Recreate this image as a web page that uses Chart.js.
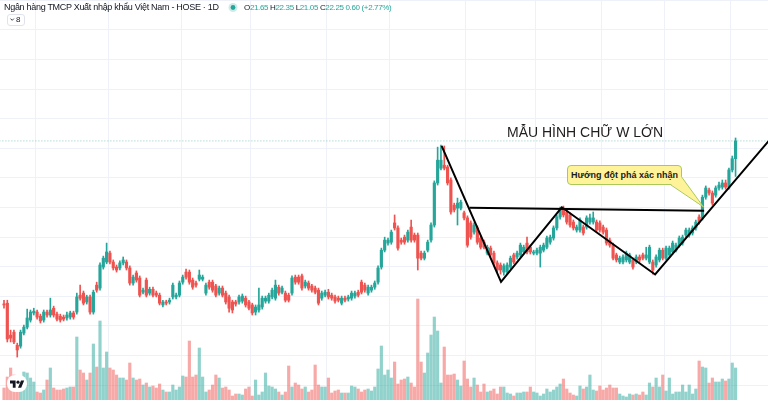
<!DOCTYPE html>
<html lang="vi">
<head>
<meta charset="utf-8">
<title>EIB - Mẫu hình chữ W lớn</title>
<script src="https://cdn.jsdelivr.net/npm/chart.js"></script>
<style>
  html, body { margin:0; padding:0; background:#ffffff; }
  #wrap { position:relative; width:768px; height:400px; overflow:hidden; font-family:"Liberation Sans", Arial, sans-serif; }
  #chart { position:absolute; left:0; top:0; }
  .ov { position:absolute; white-space:nowrap; }
  #name { left:4px; top:3px; font-size:9px; line-height:9px; letter-spacing:-0.3px; color:#131722; }
  #ohlc { left:244px; top:4px; font-size:8px; line-height:8px; letter-spacing:-0.35px; color:#26a69a; }
  #ohlc b { font-weight:normal; color:#131722; }
  #collapse { left:7px; top:14px; width:18px; height:12px; border:1px solid #e0e3eb; border-radius:3px; box-sizing:border-box; font-size:8px; line-height:10px; color:#131722; padding-left:8px; background:#fff; }
  #title { left:507px; top:125px; font-size:14px; line-height:14px; color:#1e1e1e; }
  #callout { left:567px; top:165px; width:115px; height:20px; box-sizing:border-box; border:1px solid #a9c95b; border-radius:4px; background:#fff39a; font-size:9px; font-weight:bold; color:#1a1a1a; display:flex; align-items:center; justify-content:center; }
  svg.ov { left:0; top:0; pointer-events:none; }
</style>
</head>
<body>
<div id="wrap">
  <canvas id="chart" width="768" height="400"></canvas>
  <div class="ov" id="name">Ngân hàng TMCP Xuất nhập khẩu Việt Nam - HOSE · 1D</div>
  <div class="ov" id="ohlc"></div>
  <div class="ov" id="collapse">8</div>
  <div class="ov" id="title">MẪU HÌNH CHỮ W LỚN</div>
  <div class="ov" id="callout">Hướng đột phá xác nhận</div>
  <svg class="ov" width="768" height="400" viewBox="0 0 768 400">
    <circle cx="233" cy="7.5" r="4.5" fill="rgba(38,166,154,0.22)"/>
    <circle cx="233" cy="7.5" r="2.4" fill="#26a69a"/>
    <polyline points="10.5,18.6 12.2,20.3 13.9,18.6" fill="none" stroke="#131722" stroke-width="0.8"/>
    <polygon points="671,184.4 703.5,207 681.4,176.5" fill="#fff39a"/>
    <polyline points="671,185 703.5,207 681.5,176.8" fill="none" stroke="#a9c95b" stroke-width="1"/>
    <rect x="7" y="375" width="20" height="17" rx="8" fill="#ffffff"/>
    <g transform="translate(10,379) scale(0.4)" fill="#131722">
      <path d="M14 22H7V11H0V4h14v18zM28 22h-8l7.5-18h8L28 22z"/>
      <circle cx="20" cy="8" r="4"/>
    </g>
  </svg>
</div>
<script>
// ---- price data (daily sessions, VND thousand) ----
const opens = [
16.74,16.77,15.69,15.79,15.35,15.32,15.76,15.96,16.20,16.44,
16.47,16.33,16.20,16.47,16.37,16.60,16.40,16.33,16.30,16.27,
16.30,16.44,16.47,17.04,17.11,16.81,16.98,16.47,17.38,17.28,
17.99,18.16,18.46,18.16,17.99,17.96,18.13,18.16,17.96,17.45,
17.79,17.62,17.14,17.55,17.11,17.24,17.11,17.04,16.71,16.81,
16.81,16.98,16.98,17.04,17.48,17.82,17.82,17.55,17.45,17.58,
17.58,17.11,17.48,17.48,17.35,17.11,17.28,17.11,16.98,16.81,
16.81,16.81,16.84,16.94,16.81,16.71,16.47,16.54,16.64,16.84,
16.84,16.98,16.94,17.31,17.14,17.11,17.04,17.11,17.65,17.65,
17.69,17.35,17.45,17.35,17.28,17.21,16.94,17.04,17.14,17.04,
16.98,16.94,16.77,16.94,16.91,16.94,17.01,17.14,17.48,17.38,
17.11,17.21,17.31,17.48,17.99,18.56,18.80,18.83,19.48,19.31,
18.90,19.00,18.90,19.34,19.07,19.07,18.46,18.29,18.56,18.90,
19.41,20.83,21.33,21.43,21.37,20.93,20.08,19.98,19.98,19.82,
19.65,19.48,19.17,19.31,18.97,18.83,18.46,18.63,18.46,18.13,
18.06,17.82,17.82,17.99,18.40,18.33,18.40,18.50,18.80,18.66,
18.46,18.46,18.46,18.56,18.66,18.83,18.97,19.31,19.68,19.98,
19.85,19.75,19.51,19.24,19.24,19.34,19.34,19.51,19.51,19.51,
19.48,19.34,19.24,18.90,18.73,18.40,18.16,18.16,18.23,18.16,
18.23,18.16,18.33,18.40,18.29,18.16,18.16,18.06,18.23,18.56,
18.29,18.40,18.50,18.56,18.73,18.80,19.07,19.07,19.14,19.31,
19.68,19.65,20.35,20.59,20.49,20.42,20.66,20.69,20.83,20.69,
21.27,21.65];
const highs = [
16.87,16.87,15.86,15.86,15.42,15.86,16.03,16.57,16.54,16.60,
16.54,16.40,16.54,16.54,16.94,16.67,16.47,16.40,16.37,16.47,
16.50,16.50,17.11,17.38,17.18,17.04,17.04,17.21,17.48,18.13,
18.36,18.80,18.53,18.23,18.06,18.20,18.33,18.23,18.03,17.72,
17.86,17.69,17.28,17.62,17.31,17.31,17.18,17.11,16.87,16.87,
16.94,17.45,17.11,17.52,17.72,17.92,17.89,17.62,17.52,17.89,
17.72,17.45,17.55,17.55,17.41,17.35,17.35,17.18,17.04,16.87,
16.87,17.04,17.08,17.01,16.87,16.77,16.71,17.28,17.01,17.01,
17.11,17.28,17.55,17.38,17.35,17.18,17.11,17.69,17.72,17.72,
17.75,17.55,17.52,17.41,17.35,17.28,17.18,17.21,17.24,17.11,
17.04,17.01,17.01,17.01,17.04,17.18,17.18,17.21,17.55,17.45,
17.38,17.38,17.52,18.03,18.63,19.00,18.97,19.24,19.75,19.38,
18.97,19.07,19.24,19.58,19.14,19.14,18.53,18.53,18.90,19.48,
20.90,22.04,22.11,22.08,21.43,21.00,20.15,20.32,20.25,19.88,
19.72,19.55,19.48,19.38,19.04,18.90,18.73,18.70,18.53,18.20,
18.13,18.10,18.13,18.36,18.46,18.53,18.80,18.73,19.00,18.73,
18.56,18.63,18.73,18.80,19.04,19.07,19.38,19.75,20.02,20.05,
19.92,19.82,19.58,19.41,19.65,19.41,19.72,19.78,19.85,19.58,
19.55,19.41,19.31,18.97,18.80,18.46,18.36,18.40,18.53,18.46,
18.29,18.40,18.40,18.46,18.66,18.73,18.23,18.40,18.63,18.63,
18.70,18.70,18.87,18.80,19.04,19.07,19.31,19.31,19.38,19.58,
19.75,20.42,20.73,20.66,20.56,20.73,20.86,20.93,20.93,21.33,
21.74,22.35];
const lows = [
16.60,15.46,15.46,15.40,14.95,15.25,15.70,15.90,16.13,16.37,
16.23,16.10,16.13,16.30,16.30,16.30,16.17,16.13,16.17,16.20,
16.23,16.23,16.40,16.87,16.71,16.74,16.40,16.40,17.14,17.21,
17.92,18.10,18.10,17.89,17.82,17.89,18.06,17.89,17.38,17.38,
17.48,16.98,17.08,16.98,17.04,16.98,16.98,16.71,16.64,16.71,
16.74,16.91,16.91,16.98,17.41,17.58,17.41,17.24,17.31,17.52,
17.52,17.04,17.24,17.14,16.98,17.04,16.98,16.74,16.47,16.44,
16.67,16.74,16.77,16.64,16.54,16.37,16.37,16.47,16.57,16.77,
16.77,16.91,16.87,17.04,17.08,16.81,16.81,17.04,17.41,17.41,
17.21,17.28,17.21,17.14,17.08,16.71,16.87,16.98,16.91,16.87,
16.77,16.81,16.71,16.81,16.84,16.87,16.94,16.98,17.08,17.14,
17.04,17.14,17.24,17.41,17.92,18.50,18.73,18.76,19.24,18.56,
18.76,18.76,18.83,18.83,18.83,17.89,18.23,18.23,18.50,18.83,
19.34,20.76,21.27,21.27,20.76,19.78,19.85,19.41,19.92,19.58,
18.66,18.93,19.10,18.76,18.60,18.60,18.40,18.33,18.06,17.82,
17.75,17.72,17.75,17.92,18.10,18.26,18.33,18.43,18.43,18.43,
18.40,18.40,17.99,18.50,18.60,18.76,18.90,19.24,19.61,19.68,
19.44,19.34,19.24,19.17,19.17,19.07,19.27,19.44,19.44,19.17,
19.17,19.10,18.73,18.66,18.23,18.16,18.10,18.10,18.16,18.10,
17.92,18.10,18.16,18.23,18.23,18.10,17.75,17.99,18.16,18.23,
18.23,18.33,18.43,18.50,18.66,18.73,19.00,19.00,19.07,19.24,
19.44,19.58,20.28,20.42,20.08,20.35,20.59,20.62,20.62,20.62,
21.20,21.05];
const closes = [
16.71,15.56,15.59,15.46,15.19,15.79,15.96,16.27,16.47,16.50,
16.30,16.17,16.47,16.37,16.54,16.37,16.23,16.20,16.23,16.37,
16.44,16.30,16.98,16.94,16.77,16.98,16.47,17.14,17.21,18.06,
18.29,18.50,18.16,17.96,17.89,18.13,18.23,17.96,17.45,17.65,
17.55,17.04,17.21,17.04,17.24,17.04,17.04,16.77,16.81,16.77,
16.87,17.38,17.04,17.45,17.65,17.65,17.48,17.31,17.38,17.72,
17.65,17.38,17.31,17.21,17.04,17.28,17.04,16.81,16.60,16.54,
16.74,16.98,17.01,16.71,16.60,16.44,16.64,16.71,16.94,16.94,
17.04,17.21,17.38,17.11,17.28,16.87,16.87,17.62,17.48,17.48,
17.28,17.48,17.28,17.21,17.14,16.77,17.11,17.14,16.98,16.94,
16.84,16.87,16.94,16.87,16.98,17.11,17.11,17.04,17.14,17.21,
17.31,17.31,17.45,17.96,18.56,18.90,18.90,19.17,19.31,18.63,
18.83,18.83,19.17,18.90,18.90,18.29,18.29,18.46,18.83,19.41,
20.83,21.60,21.60,21.33,20.83,19.85,19.92,20.15,20.18,19.65,
18.73,19.00,19.41,18.83,18.66,18.66,18.66,18.40,18.13,17.89,
17.89,18.03,18.06,18.29,18.16,18.46,18.73,18.66,18.50,18.50,
18.50,18.56,18.66,18.73,18.97,19.00,19.31,19.68,19.92,19.75,
19.51,19.41,19.31,19.34,19.58,19.14,19.65,19.65,19.65,19.24,
19.24,19.17,18.80,18.73,18.29,18.23,18.29,18.33,18.46,18.40,
17.99,18.33,18.23,18.29,18.40,18.66,17.89,18.33,18.56,18.29,
18.63,18.63,18.80,18.73,18.97,19.00,19.24,19.24,19.31,19.51,
19.51,20.35,20.66,20.49,20.15,20.66,20.76,20.83,20.69,21.27,
21.65,22.25];
// volume, million shares
const volumes = [
1.2,2.3,3.2,2.5,2.0,2.3,2.8,2.7,2.2,1.8,
0.8,0.7,1.0,2.0,3.2,1.2,1.0,1.0,1.1,1.2,
1.3,1.3,6.3,3.0,2.7,2.0,2.7,5.6,3.3,7.9,
3.2,4.8,3.2,3.0,2.5,2.2,2.2,2.0,3.7,2.2,
2.0,2.1,1.5,1.7,1.3,1.4,1.2,1.6,1.0,0.8,
0.8,1.5,1.0,1.3,2.4,2.3,5.9,2.3,2.5,5.2,
2.3,0.8,1.0,1.5,2.5,2.2,1.2,1.3,1.0,0.4,
0.6,0.6,0.5,1.1,1.3,0.4,2.0,0.5,0.8,2.7,
1.4,1.3,1.1,0.8,0.5,0.8,3.4,1.3,1.7,1.5,
1.1,1.3,0.8,1.0,3.5,1.5,1.3,1.3,2.2,0.7,
0.9,1.0,0.7,0.7,0.7,1.4,1.3,1.1,0.8,1.0,
1.1,0.9,1.3,3.1,5.4,2.5,3.0,2.2,3.8,1.6,
2.0,2.1,2.3,1.7,1.3,10.1,3.8,2.7,4.7,6.5,
8.3,6.9,1.7,5.3,2.5,2.5,2.6,2.0,1.4,3.9,
2.1,1.3,2.2,1.5,0.8,1.6,0.8,0.9,1.1,0.6,
1.3,1.3,0.7,0.6,0.4,0.7,0.7,0.8,0.8,1.3,
0.8,0.7,0.4,0.6,1.1,0.8,1.0,1.3,1.6,2.1,
1.1,0.7,0.5,0.4,1.4,1.1,1.3,2.5,1.0,0.9,
1.4,1.0,1.2,1.5,1.2,1.2,0.6,0.4,0.3,0.6,
0.5,0.6,0.5,0.8,0.5,1.7,1.3,2.2,1.3,2.5,
0.9,2.2,0.6,0.8,0.8,1.5,0.8,1.5,0.6,1.1,
3.9,3.3,3.2,1.7,2.2,1.8,1.8,2.1,1.9,2.1,
3.7,3.2];
// session index where each new month starts (vertical grid)
const monthBreaks = [9.5, 31.5, 53.5, 74.5, 97.5, 116.5, 139.5, 160.5, 180.5, 199.5, 219.5];
// price grid levels
const priceLevels = [14,15,16,17,18,19,20,21,22,23,24,25,26,27];
// drawings: W pattern (session index, price) and neckline
const wPattern = [
  {x:132.2, y:22.08}, {x:150.15, y:17.49}, {x:168.5, y:20.01}, {x:196.7, y:17.74}, {x:233, y:22.51}
];
const neckline = [ {x:140.6, y:19.99}, {x:211.5, y:19.89} ];

// ---- view range ----
const X_MIN = -1.21, X_MAX = 230.8;
const Y_MIN = 13.5, Y_MAX = 27.01;

const UP = '#26a69a', DOWN = '#ef5350';
const UP_V = 'rgba(38,166,154,0.5)', DOWN_V = 'rgba(239,83,80,0.5)';

const last = closes.length - 1;
const isUp = closes.map((c, i) => c >= opens[i]);
const bodyData = closes.map((c, i) => ({x: i, y: [opens[i], c]}));
const wickData = closes.map((c, i) => ({x: i, y: [lows[i], highs[i]]}));
const volData = volumes.map((v, i) => ({x: i, y: v}));
const priceLine = [{x: X_MIN - 2, y: closes[last]}, {x: X_MAX + 2, y: closes[last]}];

// header OHLC text
const chg = closes[last] - closes[last - 1];
const pct = chg / closes[last - 1] * 100;
document.getElementById('ohlc').innerHTML =
  '<b>O</b>' + opens[last].toFixed(2) + ' <b>H</b>' + highs[last].toFixed(2) +
  ' <b>L</b>' + lows[last].toFixed(2) + ' <b>C</b>' + closes[last].toFixed(2) +
  ' ' + chg.toFixed(2) + ' (' + (chg >= 0 ? '+' : '') + pct.toFixed(2) + '%)';

new Chart(document.getElementById('chart'), {
  type: 'bar',
  data: {
    datasets: [
      { type: 'line', data: wPattern, borderColor: '#000000', borderWidth: 2, pointRadius: 0, tension: 0, order: 0, yAxisID: 'y' },
      { type: 'line', data: neckline, borderColor: '#000000', borderWidth: 2, pointRadius: 0, tension: 0, order: 0, yAxisID: 'y' },
      { type: 'bar', data: bodyData, backgroundColor: isUp.map(u => u ? UP : DOWN), barThickness: 2.5, minBarLength: 1, grouped: false, order: 1, yAxisID: 'y' },
      { type: 'bar', data: wickData, backgroundColor: isUp.map(u => u ? UP : DOWN), barThickness: 1, grouped: false, order: 2, yAxisID: 'y' },
      { type: 'bar', data: volData, backgroundColor: isUp.map(u => u ? UP_V : DOWN_V), barThickness: 2.5, grouped: false, order: 3, yAxisID: 'yv' },
      { type: 'line', data: priceLine, borderColor: 'rgba(38,166,154,0.55)', borderWidth: 1, borderDash: [1, 2], pointRadius: 0, order: 4, yAxisID: 'y' }
    ]
  },
  options: {
    responsive: false,
    animation: false,
    events: [],
    layout: { padding: 0 },
    plugins: { legend: { display: false }, tooltip: { enabled: false } },
    scales: {
      x: {
        type: 'linear', min: X_MIN, max: X_MAX, offset: false,
        afterBuildTicks: s => { s.ticks = monthBreaks.map(v => ({value: v})); },
        ticks: { display: false },
        grid: { color: '#eef1f7', drawTicks: false, offset: false },
        border: { display: false }
      },
      y: {
        type: 'linear', min: Y_MIN, max: Y_MAX,
        afterBuildTicks: s => { s.ticks = priceLevels.map(v => ({value: v})); },
        ticks: { display: false },
        grid: { color: '#eef1f7', drawTicks: false },
        border: { display: false }
      },
      yv: { type: 'linear', min: 0, max: 40, display: false }
    }
  }
});
</script>
</body>
</html>
